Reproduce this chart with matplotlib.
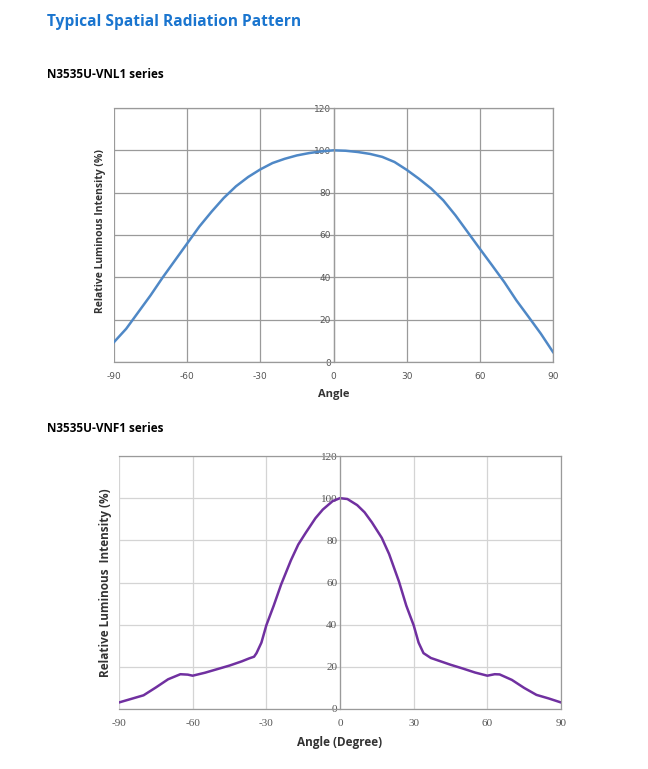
import matplotlib
matplotlib.use("Agg")
import matplotlib.pyplot as plt

plt.rcParams['axes.unicode_minus'] = False

# Data
angle_vnl1 = [-90, -85, -80, -75, -70, -65, -60, -55, -50, -45, -40, -35, -30, -25, -20, -15, -10, -5,
              0, 5, 10, 15, 20, 25, 30, 35, 40, 45, 50, 55, 60, 65, 70, 75, 80, 85, 90]
intensity_vnl1 = [9.4, 15.7, 23.6, 31.5, 40, 48, 56, 64, 71, 77.5, 83, 87.4, 91, 94, 96, 97.6, 98.7, 99.5,
                  100, 99.8, 99.2, 98.3, 96.9, 94.5, 90.8, 86.6, 82, 76.4, 69.3, 61.4, 53.5, 45.7, 37.8, 29.1, 21.3, 13.4, 4.7]

angle_vnf1 = [-90, -85, -80, -75, -70, -65, -62, -60, -55, -50, -45, -40, -37, -35, -34, -32, -30, -27, -24,
              -20, -17, -14, -10, -7, -3, 0, 3, 7, 10, 13, 17, 20, 24, 27, 30, 32, 34, 37, 40,
              45, 50, 55, 60, 63, 65, 70, 75, 80, 85, 90]
intensity_vnf1 = [3.1, 4.8, 6.5, 10.2, 14.1, 16.5, 16.3, 15.8, 17.2, 18.9, 20.6, 22.6, 24, 24.8, 26.5, 31.5, 39.7, 49, 59,
                  70.5, 78, 83.5, 90.5, 94.6, 98.6, 100, 99.6, 96.7, 93.3, 88.5, 81.2, 73.5, 60.5, 49, 39.7, 31.5, 26.5, 24.2, 23,
                  21, 19.2, 17.3, 15.8, 16.5, 16.4, 13.8, 10, 6.7, 5, 3.1]

x_ticks = [-90, -60, -30, 0, 30, 60, 90]
y_ticks = [0, 20, 40, 60, 80, 100, 120]

W, H = 648, 769
fig = plt.figure(figsize=(W / 100, H / 100), dpi=100)


def px_axes(x0, y0, x1, y1):
    return fig.add_axes([x0 / W, 1 - y1 / H, (x1 - x0) / W, (y1 - y0) / H])


fig.text(47 / W, 1 - 22 / H, 'Typical Spatial Radiation Pattern', color='#1a75cf',
         fontsize=11.2, fontweight='bold', family='Open Sans', va='center', ha='left')
fig.text(47 / W, 1 - 75 / H, 'N3535U-VNL1 series', color='black',
         fontsize=8.5, fontweight='bold', family='Open Sans', va='center', ha='left')
fig.text(47 / W, 1 - 428 / H, 'N3535U-VNF1 series', color='black',
         fontsize=8.5, fontweight='bold', family='Open Sans', va='center', ha='left')


def style(ax, grid_color, frame_color, tick_font, tick_size):
    ax.set_xlim(-90, 90)
    ax.set_ylim(0, 120)
    ax.set_xticks(x_ticks)
    ax.set_yticks(y_ticks)
    ax.grid(True, color=grid_color, linewidth=0.9)
    ax.set_axisbelow(True)
    for s in ['top', 'right', 'bottom']:
        ax.spines[s].set_color(frame_color)
        ax.spines[s].set_linewidth(0.9)
    ax.spines['left'].set_position(('data', 0))
    ax.spines['left'].set_color(frame_color)
    ax.spines['left'].set_linewidth(0.9)
    ax.tick_params(length=0, colors='#555555', labelsize=tick_size, pad=7)
    ax.tick_params(axis='y', pad=2)
    for lab in ax.get_xticklabels() + ax.get_yticklabels():
        lab.set_family(tick_font)


# Chart 1: VNL1
ax1 = px_axes(114, 108, 553, 362)
style(ax1, '#9a9a9a', '#9a9a9a', 'DejaVu Sans', 6.5)
ax1.plot(angle_vnl1, intensity_vnl1, color='#4f88c6', linewidth=1.8)
ax1.set_xlabel('Angle', fontsize=8, fontweight='bold', family='Open Sans', color='#333333', labelpad=6)
fig.text(101 / W, 1 - 231 / H, 'Relative Luminous Intensity (%)', rotation=90, fontsize=7.5,
         fontweight='bold', family='Open Sans', color='#333333', ha='center', va='center')

# Chart 2: VNF1
ax2 = px_axes(119, 456, 561, 709)
style(ax2, '#d4d4d4', '#9a9a9a', 'Liberation Serif', 8)
ax2.plot(angle_vnf1, intensity_vnf1, color='#7030a0', linewidth=1.8)
ax2.set_xlabel('Angle (Degree)', fontsize=8.5, fontweight='bold', family='Open Sans', color='#333333', labelpad=6)
fig.text(106 / W, 1 - 583 / H, 'Relative Luminous  Intensity (%)', rotation=90, fontsize=8.5,
         fontweight='bold', family='Open Sans', color='#333333', ha='center', va='center')

fig.savefig('out.png', dpi=100, facecolor='white')
